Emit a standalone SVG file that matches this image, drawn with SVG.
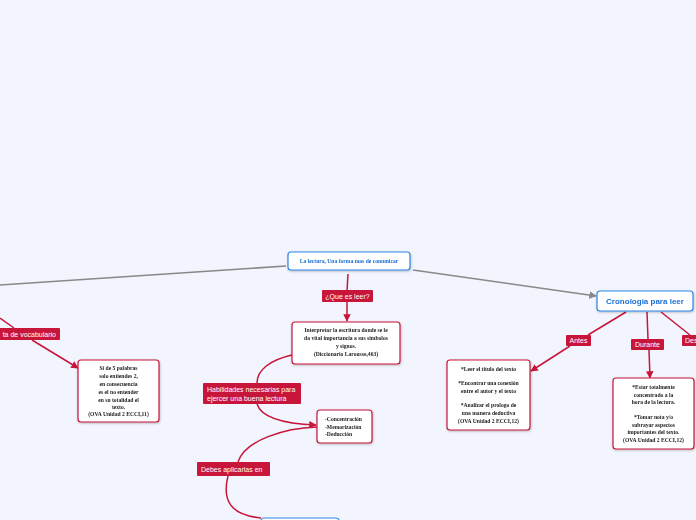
<svg xmlns="http://www.w3.org/2000/svg" width="696" height="520" viewBox="0 0 696 520">
<defs>
<style>
.bg{fill:#f2f5fd}
.blue{fill:#fff;stroke:#2d86e8;stroke-width:1.2}
.box{fill:#fff;stroke:#c8153a;stroke-width:1.2}
.lbl{fill:#c8153a}
.gl{stroke:#888;stroke-width:1.5;fill:none}
.rl{stroke:#c8153a;stroke-width:1.5;fill:none}
.bt{font-family:"Liberation Serif",serif;font-weight:bold;font-size:5.6px;fill:#222;text-anchor:middle}
.bl{font-family:"Liberation Serif",serif;font-weight:bold;font-size:5.6px;fill:#222;text-anchor:start}
.lt{font-family:"Liberation Sans",sans-serif;font-size:7px;fill:#fff}
</style>
<marker id="ar" viewBox="0 0 10 10" refX="9" refY="5" markerWidth="5" markerHeight="5" orient="auto"><path d="M0,0L10,5L0,10z" fill="#c8153a"/></marker>
<marker id="ag" viewBox="0 0 10 10" refX="9" refY="5" markerWidth="5" markerHeight="5" orient="auto"><path d="M0,0L10,5L0,10z" fill="#888"/></marker>
<filter id="sh" x="-10%" y="-10%" width="130%" height="130%"><feDropShadow dx="0.5" dy="1" stdDeviation="0.8" flood-opacity="0.25"/></filter>
</defs>
<rect class="bg" width="696" height="520"/>
<g id="connectors">
<path class="gl" d="M286,266 L0,285"/>
<path class="gl" d="M413,270 L596,296" marker-end="url(#ag)"/>
<path class="rl" d="M348,274 L347,291"/>
<path class="rl" d="M347,302 L347,321" marker-end="url(#ar)"/>
<path class="rl" d="M292,355 C270,360 257,370 257,383"/>
<path class="rl" d="M257,404 C262,420 290,424 316,425" marker-end="url(#ar)"/>
<path class="rl" d="M317,427 C285,428 245,440 238,462"/>
<path class="rl" d="M228,476 C222,500 230,515 261,518"/>
<path class="rl" d="M0,318 L14,328"/>
<path class="rl" d="M32,340 L78,368" marker-end="url(#ar)"/>
<path class="rl" d="M626,312 L588,335"/>
<path class="rl" d="M570,346 L531,371" marker-end="url(#ar)"/>
<path class="rl" d="M647,312 L648,339"/>
<path class="rl" d="M649,350 L650,378" marker-end="url(#ar)"/>
<path class="rl" d="M661,312 L690,335"/>
</g>
<g id="root" filter="url(#sh)">
<rect class="blue" x="288" y="252" width="122" height="18" rx="3"/>
<text x="349" y="263" font-family="Liberation Serif,serif" font-weight="bold" font-size="5.6" fill="#1a6fd6" text-anchor="middle">La lectura, Una forma mas de comunicar</text>
</g>
<g id="cronologia" filter="url(#sh)">
<rect class="blue" x="597" y="291" width="96" height="20" rx="3"/>
<text x="645" y="304" font-family="Liberation Sans,sans-serif" font-weight="bold" font-size="8" fill="#1a6fd6" text-anchor="middle">Cronologia para leer</text>
</g>
<g id="bottom-node">
<rect class="blue" x="261" y="518" width="78" height="10" rx="3"/>
</g>
<g id="que-es-leer">
<rect class="lbl" x="322" y="290" width="51" height="12" rx="1"/>
<text class="lt" x="347.5" y="298.5" text-anchor="middle">¿Que es leer?</text>
</g>
<g id="interpretar" filter="url(#sh)">
<rect class="box" x="292" y="322" width="108" height="42" rx="3"/>
<text class="bt" x="346" y="332">Interpretar la escritura donde se le</text>
<text class="bt" x="346" y="340">da vital importancia a sus simbolos</text>
<text class="bt" x="346" y="348">y signos.</text>
<text class="bt" x="346" y="356">(Diccionario Larousse,463)</text>
</g>
<g id="habilidades">
<rect class="lbl" x="203" y="383" width="98" height="21" rx="1"/>
<text class="lt" x="207" y="392">Habilidades necesarias para</text>
<text class="lt" x="207" y="401">ejercer una buena lectura</text>
</g>
<g id="concentracion" filter="url(#sh)">
<rect class="box" x="317" y="410" width="55" height="33" rx="3"/>
<text class="bl" x="325" y="421">-Concentración</text>
<text class="bl" x="325" y="429">-Memorización</text>
<text class="bl" x="325" y="436">-Deducción</text>
</g>
<g id="debes">
<rect class="lbl" x="197" y="462" width="73" height="14" rx="1"/>
<text class="lt" x="201" y="471.5">Debes aplicarlas en</text>
</g>
<g id="vocabulario">
<rect class="lbl" x="-10" y="328" width="70" height="12" rx="1"/>
<text class="lt" x="56" y="336.5" text-anchor="end">ta de vocabulario</text>
</g>
<g id="si-de-5" filter="url(#sh)">
<rect class="box" x="78" y="360" width="81" height="62" rx="3"/>
<text class="bt" x="118.5" y="370">Si de 5 palabras</text>
<text class="bt" x="118.5" y="378">solo entiendes 2,</text>
<text class="bt" x="118.5" y="386">en consecuencia</text>
<text class="bt" x="118.5" y="394">es el no entender</text>
<text class="bt" x="118.5" y="401.5">en su totalidad el</text>
<text class="bt" x="118.5" y="409">texto.</text>
<text class="bt" x="118.5" y="416">(OVA Unidad 2 ECCI,11)</text>
</g>
<g id="antes-label">
<rect class="lbl" x="566" y="335" width="25" height="11" rx="1"/>
<text class="lt" x="578.5" y="343" text-anchor="middle">Antes</text>
</g>
<g id="antes-box" filter="url(#sh)">
<rect class="box" x="447" y="360" width="83" height="70" rx="3"/>
<text class="bt" x="488.5" y="371">*Leer el titulo del texto</text>
<text class="bt" x="488.5" y="385">*Encontrar una conexión</text>
<text class="bt" x="488.5" y="393">entre el autor y el texto</text>
<text class="bt" x="488.5" y="407">*Analizar el prologo de</text>
<text class="bt" x="488.5" y="415">una manera deductiva</text>
<text class="bt" x="488.5" y="423">(OVA Unidad 2 ECCI,12)</text>
</g>
<g id="durante-label">
<rect class="lbl" x="631" y="339" width="33" height="11" rx="1"/>
<text class="lt" x="647.5" y="347" text-anchor="middle">Durante</text>
</g>
<g id="durante-box" filter="url(#sh)">
<rect class="box" x="613" y="378" width="81" height="71" rx="3"/>
<text class="bt" x="653.5" y="389">*Estar totalmente</text>
<text class="bt" x="653.5" y="397">concentrado a la</text>
<text class="bt" x="653.5" y="404">hora de la lectura.</text>
<text class="bt" x="653.5" y="419">*Tomar nota y/o</text>
<text class="bt" x="653.5" y="426.5">subrayar aspectos</text>
<text class="bt" x="653.5" y="434">importantes del texto.</text>
<text class="bt" x="653.5" y="442">(OVA Unidad 2 ECCI,12)</text>
</g>
<g id="des-label">
<rect class="lbl" x="682" y="335" width="20" height="11" rx="1"/>
<text class="lt" x="685" y="343">Des</text>
</g>
</svg>
